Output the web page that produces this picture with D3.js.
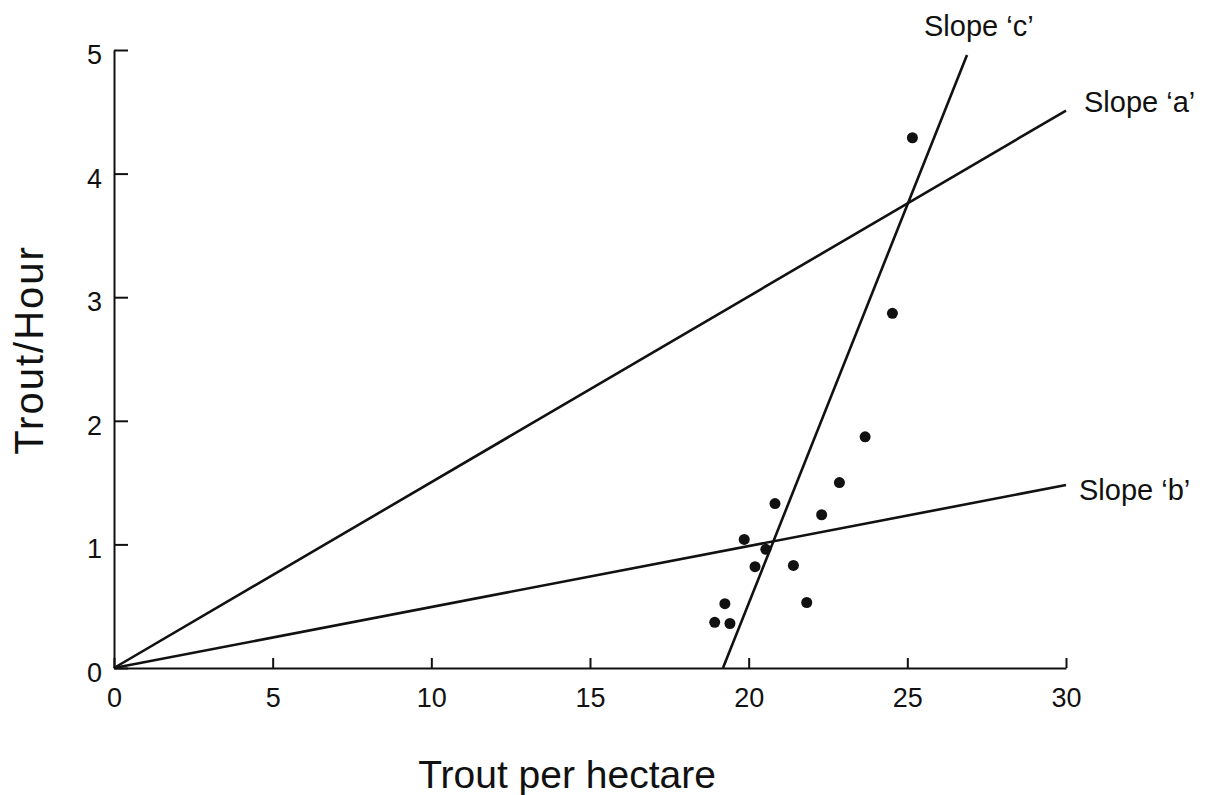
<!DOCTYPE html>
<html>
<head>
<meta charset="utf-8">
<script src="https://cdn.jsdelivr.net/npm/d3@7"></script>
<style>
    body { margin: 0; background: #fff; }
    svg { display: block; font-family: "Liberation Sans", Arial, sans-serif; }
</style>
</head>
<body>
<svg id="chart" width="1214" height="795"></svg>
<script>
// data
var xTicks = [0, 5, 10, 15, 20, 25, 30];
var yTicks = [0, 1, 2, 3, 4, 5];

var troutPerHa = [18.93, 19.41, 19.25, 19.86, 20.20, 20.54, 20.83, 21.41, 21.83, 22.30, 22.86, 23.67, 24.53, 25.16];
var troutPerHour = [0.37, 0.36, 0.52, 1.04, 0.82, 0.96, 1.33, 0.83, 0.53, 1.24, 1.50, 1.87, 2.87, 4.29];

var slopeNames = ["Slope \u2018a\u2019", "Slope \u2018b\u2019", "Slope \u2018c\u2019"];
var slopeStart = [[0, 0], [0, 0], [19.19, 0]];
var slopeEnd = [[30, 4.51], [30, 1.48], [26.88, 4.96]];

var svg = d3.select('#chart');

var x = d3.scaleLinear().domain([0, 30]).range([114, 1066]);
var y = d3.scaleLinear().domain([0, 5]).range([668, 50]);

// x axis, ticks pointing up into the plot
var xAxis = svg.append('g')
    .attr('transform', 'translate(0,' + y(0) + ')')
    .call(d3.axisBottom(x).tickValues(xTicks).tickFormat(d3.format('d'))
        .tickSizeInner(-10).tickSizeOuter(0).tickPadding(20));

// y axis, ticks pointing right
var yAxis = svg.append('g')
    .attr('transform', 'translate(' + x(0) + ',0)')
    .call(d3.axisLeft(y).tickValues(yTicks).tickFormat(d3.format('d'))
        .tickSizeInner(-14).tickSizeOuter(0).tickPadding(12));

[xAxis, yAxis].forEach(function(ax) {
    ax.select('.domain').attr('stroke', '#111').attr('stroke-width', 2);
    ax.selectAll('.tick line').attr('stroke', '#111').attr('stroke-width', 2);
    ax.selectAll('.tick text')
        .attr('fill', '#111')
        .style('font-family', '"Liberation Sans", Arial, sans-serif')
        .style('font-size', '27px');
});
yAxis.selectAll('.tick text').attr('dy', '0.5em');

// slope lines
var lineData = slopeNames.map(function(n, i) {
    return { name: n, pts: [slopeStart[i], slopeEnd[i]] };
});

var line = d3.line()
    .x(function(d) { return x(d[0]); })
    .y(function(d) { return y(d[1]); });

svg.append('g')
    .selectAll('path')
    .data(lineData)
    .enter()
    .append('path')
    .attr('d', function(d) { return line(d.pts); })
    .attr('fill', 'none')
    .attr('stroke', '#111')
    .attr('stroke-width', 2.6);

// points
svg.append('g')
    .selectAll('circle')
    .data(troutPerHa)
    .enter()
    .append('circle')
    .attr('cx', function(d) { return x(d); })
    .attr('cy', function(d, i) { return y(troutPerHour[i]); })
    .attr('r', 5.5)
    .attr('fill', '#111');

// labels for the slopes
var labelPos = [[1084, 112], [1079, 500], [924, 36]];
svg.append('g')
    .selectAll('text')
    .data(slopeNames)
    .enter()
    .append('text')
    .attr('x', function(d, i) { return labelPos[i][0]; })
    .attr('y', function(d, i) { return labelPos[i][1]; })
    .text(function(d) { return d; })
    .style('font-size', '29px')
    .attr('fill', '#111');

// axis titles
svg.append('text')
    .attr('x', 567)
    .attr('y', 788)
    .attr('text-anchor', 'middle')
    .text('Trout per hectare')
    .style('font-size', '39px')
    .attr('fill', '#111');

svg.append('text')
    .attr('transform', 'translate(43,350) rotate(-90)')
    .attr('text-anchor', 'middle')
    .text('Trout/Hour')
    .style('font-size', '40px')
    .style('letter-spacing', '2px')
    .attr('fill', '#111');
</script>
</body>
</html>
